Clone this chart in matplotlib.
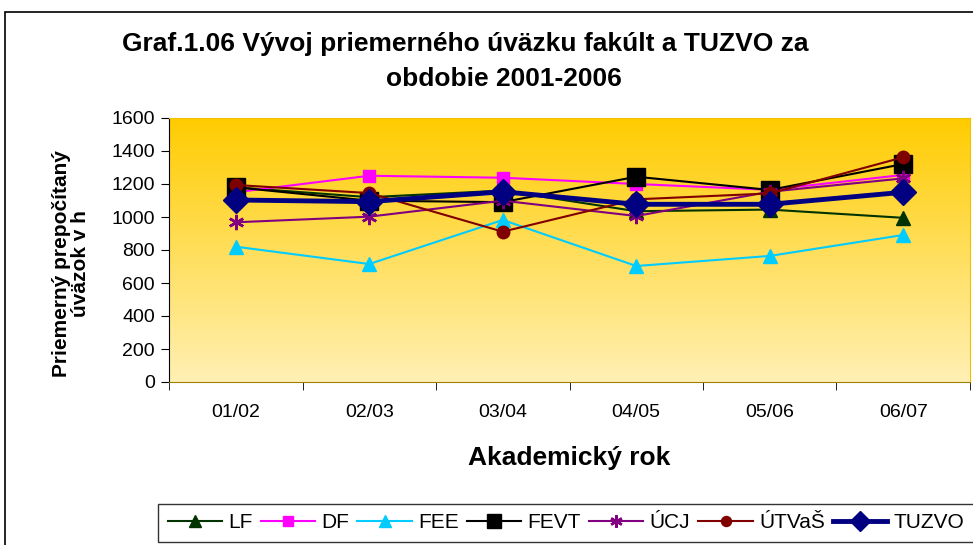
import numpy as np
import matplotlib
matplotlib.use("Agg")
import matplotlib.pyplot as plt
from matplotlib.patches import Rectangle

plt.rcParams['font.family'] = ['Liberation Sans', 'DejaVu Sans']

# Academic years (categories)
years = ["01/02", "02/03", "03/04", "04/05", "05/06", "06/07"]

# Average workload per faculty (hours)
lf = [1180, 1120, 1160, 1035, 1045, 995]
df = [1150, 1250, 1238, 1200, 1165, 1255]
fee = [820, 715, 982, 703, 764, 891]
fevt = [1180, 1099, 1090, 1244, 1164, 1321]
ucj = [968, 1002, 1099, 1006, 1153, 1234]
utvas = [1194, 1145, 911, 1107, 1143, 1362]
tuzvo = [1103, 1093, 1153, 1077, 1077, 1150]

series = [
    ("LF", lf, dict(color="#003300", marker="^", ms=10, lw=1.5)),
    ("DF", df, dict(color="#FF00FF", marker="s", ms=9, lw=1.5)),
    ("FEE", fee, dict(color="#00CCFF", marker="^", ms=10, lw=1.5)),
    ("FEVT", fevt, dict(color="#000000", marker="s", ms=13, lw=1.5)),
    ("ÚCJ", ucj, dict(color="#800080", marker=(6, 2, 0), ms=11, lw=1.5, mew=1.8)),
    ("ÚTVaŠ", utvas, dict(color="#800000", marker="o", ms=9, lw=1.5)),
    ("TUZVO", tuzvo, dict(color="#000080", marker="D", ms=13, lw=3.5)),
]

fig = plt.figure(figsize=(9.73, 5.45), dpi=100)
W, H = 973, 545

# outer chart frame
fig.patches.append(Rectangle((5 / W, -0.1), 1.2, (545 - 12) / H + 0.1,
                             transform=fig.transFigure, fill=False,
                             edgecolor="black", lw=1.2))

ax = fig.add_axes([169 / W, (H - 382) / H, (970 - 169) / W, (382 - 118) / H])

x = np.arange(len(years))

# gradient background of the plot area (gold on top, pale at bottom)
top = np.array([255, 204, 0]) / 255
bot = np.array([255, 240, 180]) / 255
t = np.linspace(0, 1, 256)[:, None]
grad = (top * (1 - t) + bot * t)[:, None, :]
ax.imshow(grad, extent=[0, 1, 0, 1], transform=ax.transAxes, aspect="auto",
          zorder=0, origin="upper")

for name, vals, st in series:
    ax.plot(x, vals, label=name, zorder=3, **st)

ax.set_xlim(-0.5, len(years) - 0.5)
ax.set_ylim(0, 1600)
ax.set_yticks(range(0, 1601, 200))
ax.set_xticks(x)
ax.set_xticklabels(years)
ax.set_xticks(np.arange(-0.5, len(years)), minor=True)
ax.tick_params(axis="x", which="major", length=0, pad=16, labelsize=14)
ax.tick_params(axis="x", which="minor", length=6, direction="out")
ax.tick_params(axis="y", length=6, labelsize=14, pad=4)

for s in ["top", "right"]:
    ax.spines[s].set_color("#F0C000")
ax.spines["left"].set_color("black")
ax.spines["bottom"].set_color("#A08000")

ax.set_xlabel("Akademický rok", fontsize=19, fontweight="bold", labelpad=18)
ax.set_ylabel("Priemerný prepočítaný\núväzok v h", fontsize=15,
              fontweight="bold", linespacing=0.95)
ax.yaxis.set_label_coords(-0.099, 0.45)

fig.text(465 / W, 1 - 44 / H, "Graf.1.06 Vývoj priemerného úväzku fakúlt a TUZVO za",
         ha="center", va="center", fontsize=19, fontweight="bold")
fig.text(504 / W, 1 - 79 / H, "obdobie 2001-2006",
         ha="center", va="center", fontsize=19, fontweight="bold")

leg = fig.legend(loc="center", bbox_to_anchor=(566 / W, 1 - 523 / H), ncol=7,
                 frameon=True, fancybox=False, fontsize=15,
                 handlelength=2.6, handletextpad=0.3, columnspacing=0.4,
                 borderpad=0.45, markerscale=0.8)
leg.get_frame().set_edgecolor("black")
leg.get_frame().set_linewidth(1.0)

fig.savefig("out.png", dpi=100)
